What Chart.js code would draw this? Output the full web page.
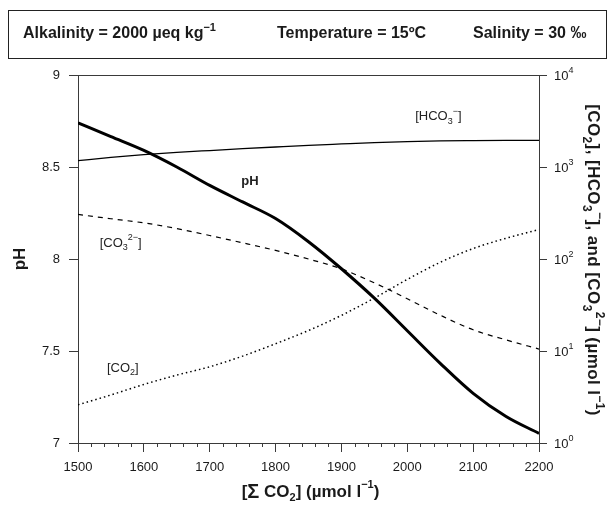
<!DOCTYPE html>
<html>
<head>
<meta charset="utf-8">
<title>pH and carbonate species vs total CO2</title>
<script src="https://cdn.jsdelivr.net/npm/chart.js"></script>
<style>
  html, body { margin: 0; padding: 0; background: #fff; }
  #wrap { width: 614px; height: 506px; position: relative; }
</style>
</head>
<body>
<div id="wrap"><canvas id="chart"></canvas></div>
<script>
// total CO2 (umol/l) on the x axis
const sumCO2 = [1500, 1550, 1600, 1650, 1700, 1750, 1800, 1850, 1900, 1950, 2000, 2050, 2100, 2150, 2200];
// pH (left axis)
const pH = [8.74, 8.665, 8.59, 8.50, 8.40, 8.31, 8.22, 8.094, 7.947, 7.787, 7.61, 7.433, 7.27, 7.144, 7.052];
// species, umol/l (right log axis)
const hco3 = [1170, 1270, 1360, 1440, 1510, 1580, 1650, 1720, 1780, 1840, 1890, 1920, 1935, 1945, 1950];
const co3 = [305, 274, 247, 214, 180, 150, 124, 100, 78, 55, 37, 24.5, 17, 13.2, 10.5];
const co2 = [2.6, 3.33, 4.33, 5.47, 6.74, 8.8, 12.0, 16.7, 24.4, 37.6, 60, 92, 130, 168, 209];

const xTicks = [1500, 1600, 1700, 1800, 1900, 2000, 2100, 2200];
const phTicks = [7, 7.5, 8, 8.5, 9];
const logTicks = [1, 10, 100, 1000, 10000];

const FAMILY = "'Liberation Sans', Arial, Helvetica, sans-serif";
const INK = '#1a1a1a';
const AXIS = '#3a3a3a';

function pairs(ys) {
  return sumCO2.map((x, i) => ({ x: x, y: ys[i] }));
}

// text with sub/superscripts: segs = [[text, 'n'|'sub'|'sup'|'big'], ...]
function drawRich(ctx, segs, x, y, size, weight, align, small) {
  small = small || 0.68;
  const parts = segs.map(([t, k]) => {
    const s = k === 'n' ? size : (k === 'big' ? Math.round(size * 1.15) : Math.round(size * small));
    ctx.font = weight + ' ' + s + 'px ' + FAMILY;
    return { t: t, k: k, s: s, w: ctx.measureText(t).width };
  });
  const total = parts.reduce((a, p) => a + p.w, 0);
  let cx = align === 'center' ? x - total / 2 : (align === 'right' ? x - total : x);
  ctx.textAlign = 'left';
  ctx.textBaseline = 'middle';
  parts.forEach(p => {
    ctx.font = weight + ' ' + p.s + 'px ' + FAMILY;
    const dy = p.k === 'sub' ? size * 0.38 : (p.k === 'sup' ? -size * 0.4 : 0);
    ctx.fillText(p.t, cx, y + dy);
    cx += p.w;
  });
}

const extras = {
  id: 'extras',
  afterDraw(chart) {
    const ctx = chart.ctx;
    const xs = chart.scales.x, ys = chart.scales.y, rs = chart.scales.y2;
    const area = chart.chartArea;
    ctx.save();
    ctx.fillStyle = INK;

    // header box
    ctx.strokeStyle = '#222';
    ctx.lineWidth = 1;
    ctx.strokeRect(8.5, 10.5, 598, 48);
    drawRich(ctx, [['Alkalinity = 2000 \u00b5eq kg', 'n'], ['\u22121', 'sup']], 23, 34, 16, 'bold', 'left');
    drawRich(ctx, [['Temperature = 15\u00baC', 'n']], 277, 34, 16, 'bold', 'left');
    drawRich(ctx, [['Salinity = 30 \u2030', 'n']], 473, 34, 16, 'bold', 'left');

    // top border of plot
    ctx.strokeStyle = AXIS;
    ctx.beginPath();
    ctx.moveTo(area.left, Math.round(area.top) + 0.5);
    ctx.lineTo(area.right, Math.round(area.top) + 0.5);
    ctx.stroke();

    // minor ticks on x axis
    ctx.beginPath();
    for (let v = 1520; v < 2200; v += 20) {
      if (v % 100 === 0) continue;
      const px = Math.round(xs.getPixelForValue(v)) + 0.5;
      ctx.moveTo(px, area.bottom);
      ctx.lineTo(px, area.bottom + 4);
    }
    ctx.stroke();

    // right axis labels 10^n
    logTicks.forEach((v, i) => {
      const py = rs.getPixelForValue(v);
      drawRich(ctx, [['10', 'n'], [String(i), 'sup']], area.right + 15, py + 1, 13, 'normal', 'left');
    });

    // axis titles
    drawRich(ctx, [['[', 'n'], ['\u03a3', 'big'], [' CO', 'n'], ['2', 'sub'], ['] (\u00b5mol l', 'n'], ['\u22121', 'sup'], [')', 'n']],
      (area.left + area.right) / 2 + 2, 492, 17, 'bold', 'center', 0.65);

    ctx.save();
    ctx.translate(20, (area.top + area.bottom) / 2);
    ctx.rotate(-Math.PI / 2);
    drawRich(ctx, [['pH', 'n']], 0, 0, 17, 'bold', 'center');
    ctx.restore();

    ctx.save();
    ctx.translate(593, (area.top + area.bottom) / 2 + 1);
    ctx.rotate(Math.PI / 2);
    ctx.letterSpacing = '0.4px';
    drawRich(ctx, [
      ['[CO', 'n'], ['2', 'sub'], ['], [HCO', 'n'], ['3', 'sub'], ['\u2212', 'sup'],
      ['], and [CO', 'n'], ['3', 'sub'], ['2\u2212', 'sup'], ['] (\u00b5mol l', 'n'], ['\u22121', 'sup'], [')', 'n']
    ], 0, 0, 17, 'bold', 'center', 0.72);
    ctx.restore();

    // curve labels (x in umol/l, y in pH units)
    ctx.fillStyle = '#222';
    drawRich(ctx, [['pH', 'n']], xs.getPixelForValue(1761), ys.getPixelForValue(8.42), 13, 'bold', 'center');
    drawRich(ctx, [['[HCO', 'n'], ['3', 'sub'], ['\u2212', 'sup'], [']', 'n']],
      xs.getPixelForValue(2012), ys.getPixelForValue(8.774), 13, 'normal', 'left');
    drawRich(ctx, [['[CO', 'n'], ['3', 'sub'], ['2\u2212', 'sup'], [']', 'n']],
      xs.getPixelForValue(1533), ys.getPixelForValue(8.087), 13, 'normal', 'left');
    drawRich(ctx, [['[CO', 'n'], ['2', 'sub'], [']', 'n']],
      xs.getPixelForValue(1544), ys.getPixelForValue(7.408), 13, 'normal', 'left');

    ctx.restore();
  }
};

const tickFont = { family: FAMILY, size: 13 };

new Chart(document.getElementById('chart'), {
  type: 'line',
  data: {
    datasets: [
      { label: 'pH', data: pairs(pH), yAxisID: 'y', borderColor: '#000', borderWidth: 3, pointRadius: 0, cubicInterpolationMode: 'monotone' },
      { label: 'HCO3', data: pairs(hco3), yAxisID: 'y2', borderColor: '#000', borderWidth: 1.3, pointRadius: 0, cubicInterpolationMode: 'monotone' },
      { label: 'CO3', data: pairs(co3), yAxisID: 'y2', borderColor: '#000', borderWidth: 1.2, borderDash: [5, 5], pointRadius: 0, cubicInterpolationMode: 'monotone' },
      { label: 'CO2', data: pairs(co2), yAxisID: 'y2', borderColor: '#000', borderWidth: 1.5, borderDash: [1.5, 3], pointRadius: 0, cubicInterpolationMode: 'monotone' }
    ]
  },
  options: {
    responsive: true,
    maintainAspectRatio: false,
    animation: false,
    layout: { padding: { top: 75, left: 0, right: 0, bottom: 0 } },
    plugins: { legend: { display: false }, tooltip: { enabled: false } },
    scales: {
      x: {
        type: 'linear', min: 1500, max: 2200,
        afterBuildTicks(s) { s.ticks = xTicks.map(v => ({ value: v })); },
        afterFit(s) { s.height = 63; },
        ticks: { font: tickFont, color: INK, padding: 8, maxRotation: 0, callback: v => String(v) },
        grid: { drawOnChartArea: false, tickLength: 9, color: AXIS },
        border: { color: AXIS, width: 1 }
      },
      y: {
        type: 'linear', position: 'left', min: 7, max: 9,
        afterBuildTicks(s) { s.ticks = phTicks.map(v => ({ value: v })); },
        afterFit(s) { s.width = 78; },
        ticks: { font: tickFont, color: INK, padding: 9, callback: v => String(v) },
        grid: { drawOnChartArea: false, tickLength: 9, color: AXIS },
        border: { color: AXIS, width: 1 }
      },
      y2: {
        type: 'logarithmic', position: 'right', min: 1, max: 10000,
        afterBuildTicks(s) { s.ticks = logTicks.map(v => ({ value: v })); },
        afterFit(s) { s.width = 75; },
        ticks: { callback: () => '' },
        grid: { drawOnChartArea: false, tickLength: 8, color: AXIS },
        border: { color: AXIS, width: 1 }
      }
    }
  },
  plugins: [extras]
});
</script>
</body>
</html>
